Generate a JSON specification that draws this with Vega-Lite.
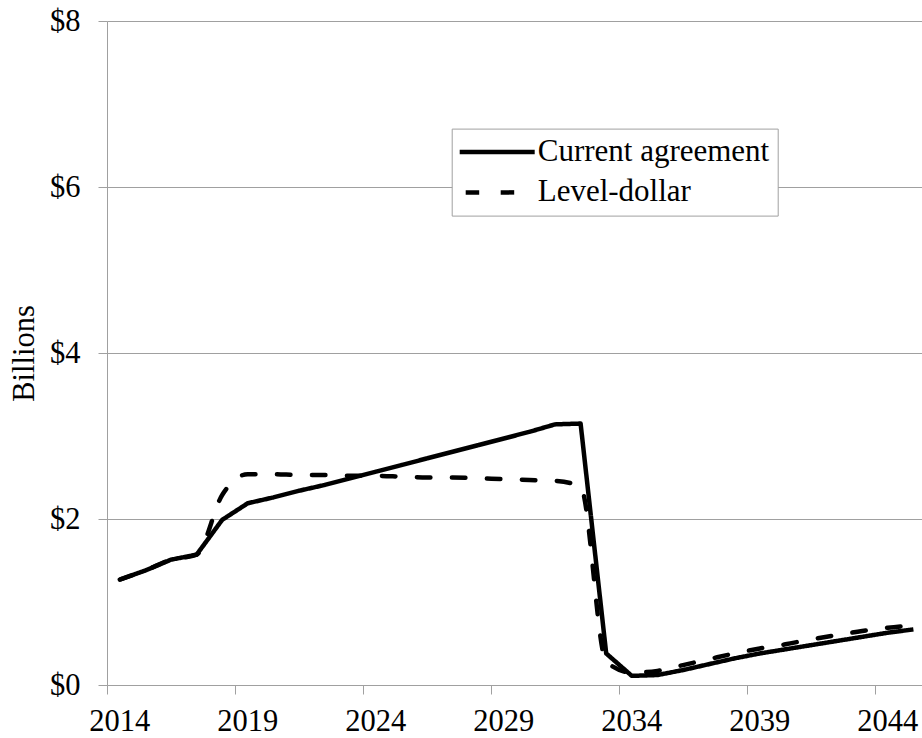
{
  "$schema": "https://vega.github.io/schema/vega-lite/v6.json",
  "width": 819.2,
  "height": 664,
  "autosize": {"type": "none"},
  "padding": {"left": 107, "top": 21, "right": -4.2, "bottom": 53},
  "background": "white",
  "config": {
    "view": {"stroke": null},
    "font": "Liberation Serif",
    "axis": {
      "domainColor": "#a0a0a0",
      "tickColor": "#a0a0a0",
      "gridColor": "#a0a0a0",
      "domainWidth": 1,
      "tickWidth": 1,
      "gridWidth": 1,
      "tickSize": 9,
      "labelFont": "Liberation Serif",
      "labelFontSize": 30.5,
      "labelColor": "black",
      "titleFont": "Liberation Serif",
      "titleFontSize": 30.5,
      "titleFontWeight": "normal",
      "titleColor": "black"
    }
  },
  "data": {
    "values": [
      {"year": 2014, "value": 1.27, "series": "Current agreement"},
      {"year": 2015, "value": 1.38, "series": "Current agreement"},
      {"year": 2016, "value": 1.51, "series": "Current agreement"},
      {"year": 2017, "value": 1.57, "series": "Current agreement"},
      {"year": 2018, "value": 1.99, "series": "Current agreement"},
      {"year": 2019, "value": 2.19, "series": "Current agreement"},
      {"year": 2020, "value": 2.26, "series": "Current agreement"},
      {"year": 2021, "value": 2.34, "series": "Current agreement"},
      {"year": 2022, "value": 2.41, "series": "Current agreement"},
      {"year": 2023, "value": 2.49, "series": "Current agreement"},
      {"year": 2024, "value": 2.57, "series": "Current agreement"},
      {"year": 2025, "value": 2.65, "series": "Current agreement"},
      {"year": 2026, "value": 2.73, "series": "Current agreement"},
      {"year": 2027, "value": 2.81, "series": "Current agreement"},
      {"year": 2028, "value": 2.89, "series": "Current agreement"},
      {"year": 2029, "value": 2.97, "series": "Current agreement"},
      {"year": 2030, "value": 3.05, "series": "Current agreement"},
      {"year": 2031, "value": 3.14, "series": "Current agreement"},
      {"year": 2032, "value": 3.15, "series": "Current agreement"},
      {"year": 2033, "value": 0.38, "series": "Current agreement"},
      {"year": 2034, "value": 0.11, "series": "Current agreement"},
      {"year": 2035, "value": 0.12, "series": "Current agreement"},
      {"year": 2036, "value": 0.18, "series": "Current agreement"},
      {"year": 2037, "value": 0.25, "series": "Current agreement"},
      {"year": 2038, "value": 0.32, "series": "Current agreement"},
      {"year": 2039, "value": 0.38, "series": "Current agreement"},
      {"year": 2040, "value": 0.43, "series": "Current agreement"},
      {"year": 2041, "value": 0.48, "series": "Current agreement"},
      {"year": 2042, "value": 0.53, "series": "Current agreement"},
      {"year": 2043, "value": 0.58, "series": "Current agreement"},
      {"year": 2044, "value": 0.63, "series": "Current agreement"},
      {"year": 2045, "value": 0.67, "series": "Current agreement"},
      {"year": 2014, "value": 1.27, "series": "Level-dollar"},
      {"year": 2015, "value": 1.38, "series": "Level-dollar"},
      {"year": 2016, "value": 1.51, "series": "Level-dollar"},
      {"year": 2017, "value": 1.57, "series": "Level-dollar"},
      {"year": 2018, "value": 2.29, "series": "Level-dollar"},
      {"year": 2019, "value": 2.54, "series": "Level-dollar"},
      {"year": 2020, "value": 2.54, "series": "Level-dollar"},
      {"year": 2021, "value": 2.53, "series": "Level-dollar"},
      {"year": 2022, "value": 2.53, "series": "Level-dollar"},
      {"year": 2023, "value": 2.52, "series": "Level-dollar"},
      {"year": 2024, "value": 2.52, "series": "Level-dollar"},
      {"year": 2025, "value": 2.51, "series": "Level-dollar"},
      {"year": 2026, "value": 2.5, "series": "Level-dollar"},
      {"year": 2027, "value": 2.5, "series": "Level-dollar"},
      {"year": 2028, "value": 2.49, "series": "Level-dollar"},
      {"year": 2029, "value": 2.48, "series": "Level-dollar"},
      {"year": 2030, "value": 2.47, "series": "Level-dollar"},
      {"year": 2031, "value": 2.46, "series": "Level-dollar"},
      {"year": 2032, "value": 2.39, "series": "Level-dollar"},
      {"year": 2033, "value": 0.28, "series": "Level-dollar"},
      {"year": 2034, "value": 0.15, "series": "Level-dollar"},
      {"year": 2035, "value": 0.17, "series": "Level-dollar"},
      {"year": 2036, "value": 0.24, "series": "Level-dollar"},
      {"year": 2037, "value": 0.31, "series": "Level-dollar"},
      {"year": 2038, "value": 0.38, "series": "Level-dollar"},
      {"year": 2039, "value": 0.44, "series": "Level-dollar"},
      {"year": 2040, "value": 0.49, "series": "Level-dollar"},
      {"year": 2041, "value": 0.55, "series": "Level-dollar"},
      {"year": 2042, "value": 0.6, "series": "Level-dollar"},
      {"year": 2043, "value": 0.65, "series": "Level-dollar"},
      {"year": 2044, "value": 0.69, "series": "Level-dollar"},
      {"year": 2045, "value": 0.72, "series": "Level-dollar"}
    ]
  },
  "encoding": {
    "x": {
      "field": "year",
      "type": "ordinal",
      "bandPosition": 0.5,
      "scale": {"type": "band", "paddingInner": 0, "paddingOuter": 0},
      "axis": {
        "values": [2014, 2019, 2024, 2029, 2034, 2039, 2044],
        "bandPosition": 0,
        "grid": false,
        "labelAngle": 0,
        "labelPadding": 12.5,
        "title": null
      }
    },
    "y": {
      "field": "value",
      "type": "quantitative",
      "scale": {"domain": [0, 8]},
      "axis": {
        "values": [0, 2, 4, 6, 8],
        "format": "$,.0f",
        "grid": true,
        "labelPadding": 18,
        "title": "Billions",
        "titlePadding": 10
      }
    },
    "strokeDash": {
      "field": "series",
      "type": "nominal",
      "scale": {
        "domain": ["Current agreement", "Level-dollar"],
        "range": [[1, 0], [13.5, 21.5]]
      },
      "legend": {
        "title": null,
        "orient": "none",
        "legendX": 344.7,
        "legendY": 107.6,
        "direction": "vertical",
        "symbolType": "M-5,0H5",
        "symbolSize": 225,
        "symbolStrokeWidth": 4.5,
        "symbolStrokeColor": "black",
        "symbolDashOffset": -6,
        "symbolOffset": 22,
        "labelOffset": 25,
        "labelFont": "Liberation Serif",
        "labelFontSize": 31,
        "labelColor": "black",
        "labelLimit": 400,
        "padding": 8,
        "rowPadding": 8.3,
        "strokeColor": "#a0a0a0",
        "fillColor": "white"
      }
    }
  },
  "layer": [
    {
      "transform": [{"filter": "datum.series === 'Level-dollar'"}],
      "mark": {"type": "line", "color": "black", "strokeWidth": 4.5, "interpolate": "monotone", "strokeCap": "round"}
    },
    {
      "transform": [{"filter": "datum.series === 'Current agreement'"}],
      "mark": {"type": "line", "color": "black", "strokeWidth": 4.5, "strokeJoin": "round"}
    }
  ]
}
